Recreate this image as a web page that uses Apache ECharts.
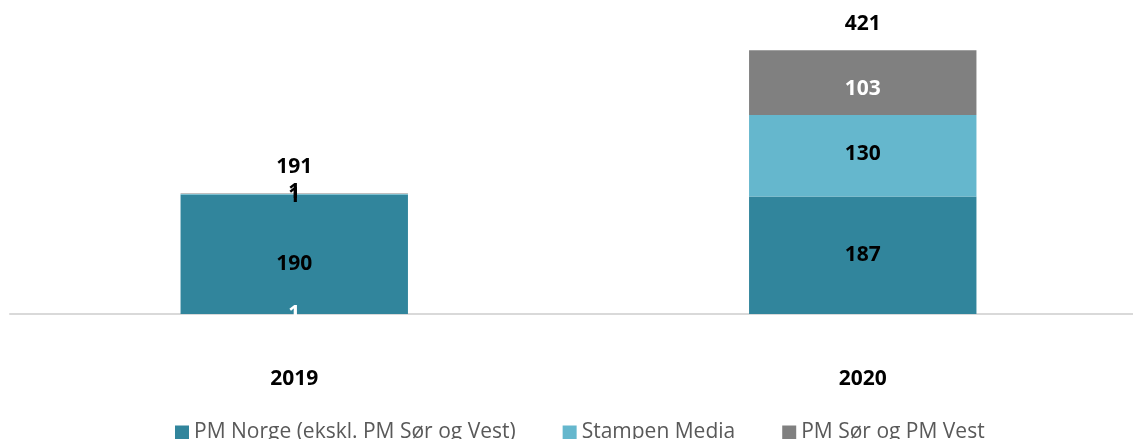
<!DOCTYPE html>
<html>
<head>
<meta charset="utf-8">
<script src="https://cdn.jsdelivr.net/npm/echarts@6/dist/echarts.min.js"></script>
<style>html,body{margin:0;padding:0;background:#fff;}#c{width:1133px;height:439px;}</style>
</head>
<body>
<div id="c"></div>
<script>
const categories = ['2019', '2020'];
const pmNorge = [190, 187];
const stampen = [1, 130];
const pmSorVest = [1, 103];
const totals = [191, 421];
const baseLabel = [1, null];

const seriesNames = ['PM Norge (ekskl. PM Sør og Vest)', 'Stampen Media', 'PM Sør og PM Vest'];
const colors = ['#31859C', '#65B7CD', '#808080'];
const FONT = 'Open Sans';

const chart = echarts.init(document.getElementById('c'));
const lbl = (color) => ({ show: true, position: 'inside', color: color, fontFamily: FONT, fontWeight: 'bold', fontSize: 21 });

chart.setOption({
  animation: false,
  grid: { left: 10, width: 1137, top: 0, bottom: 125, containLabel: false, outerBoundsMode: 'none' },
  legend: {
    data: seriesNames,
    top: 417,
    left: 170,
    itemWidth: 14,
    itemHeight: 14,
    itemGap: 47,
    icon: 'rect',
    textStyle: { fontFamily: FONT, fontSize: 21, color: '#595959' }
  },
  xAxis: {
    type: 'category',
    data: categories,
    axisLine: { lineStyle: { color: '#D9D9D9', width: 2 } },
    axisTick: { show: false },
    axisLabel: { margin: 55, color: '#000', fontFamily: FONT, fontWeight: 'bold', fontSize: 21 }
  },
  yAxis: { type: 'value', min: 0, max: 500, show: false, splitLine: { show: false } },
  series: [
    { name: seriesNames[0], type: 'bar', stack: 'a', barWidth: '40%', itemStyle: { color: colors[0] },
      label: lbl('#000'),
      data: pmNorge.map((v, i) => i === 0 ? { value: v, label: { offset: [0, 10] } } : v) },
    { name: seriesNames[1], type: 'bar', stack: 'a', barWidth: '40%', itemStyle: { color: colors[1] },
      label: Object.assign(lbl('#000'), { offset: [0, -2] }), data: stampen },
    { name: seriesNames[2], type: 'bar', stack: 'a', barWidth: '40%', itemStyle: { color: colors[2] },
      label: Object.assign(lbl('#fff'), { offset: [0, 6] }),
      data: pmSorVest.map((v, i) => i === 0 ? { value: v, label: { color: '#000', offset: [0, 2] } } : v) },
    { name: 'total', type: 'bar', stack: 'a', barWidth: '40%', itemStyle: { color: 'transparent' },
      label: { show: true, position: 'top', distance: 16, color: '#000', fontFamily: FONT, fontWeight: 'bold', fontSize: 21,
        formatter: (p) => String(totals[p.dataIndex]) },
      data: totals.map(() => 0) },
    { name: 'base', type: 'bar', barWidth: '40%', barGap: '-100%', itemStyle: { color: 'transparent' },
      label: lbl('#fff'), data: baseLabel }
  ]
});
</script>
</body>
</html>
